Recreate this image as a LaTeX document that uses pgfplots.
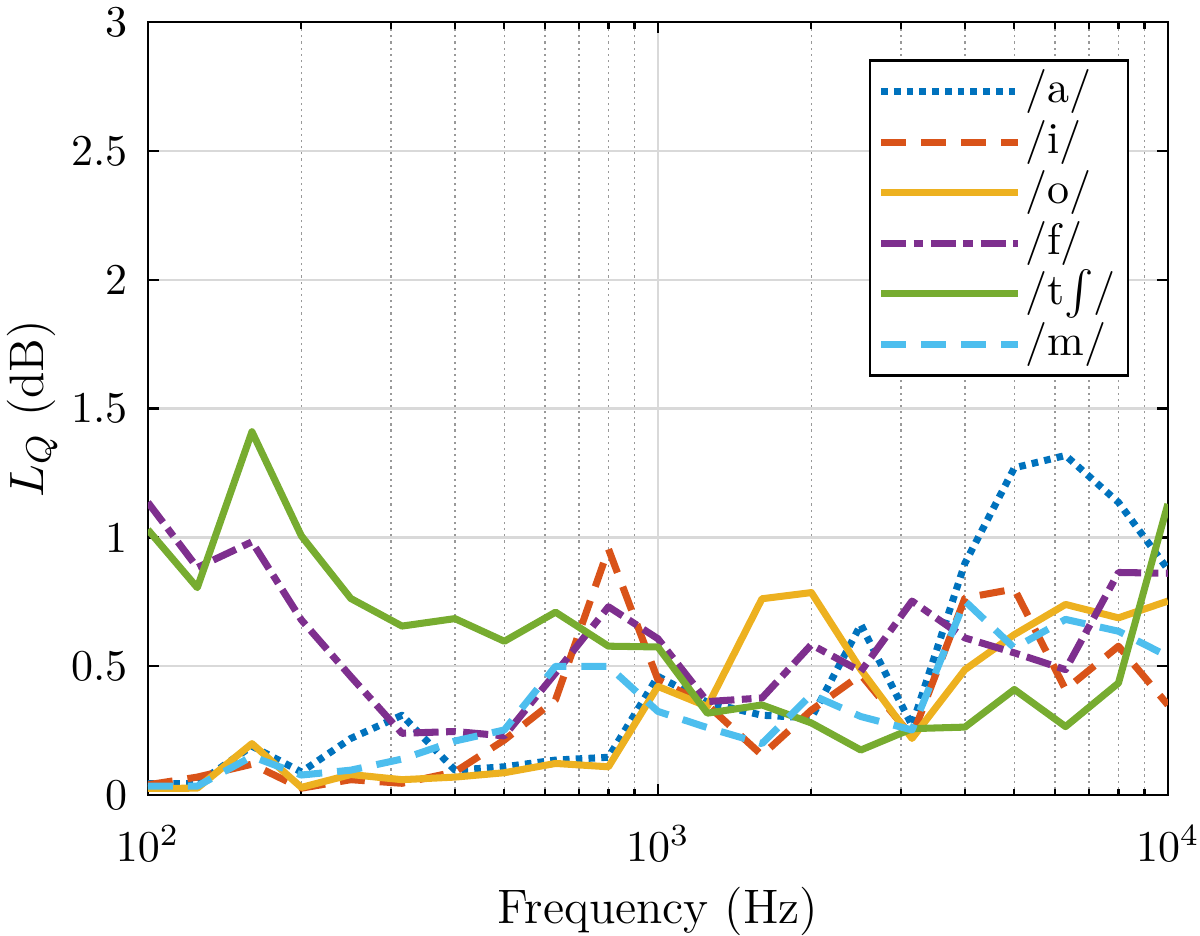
\documentclass[border=0pt]{standalone}
\usepackage{pgfplots}
\usepackage{pgfplotstable}
\pgfplotsset{compat=1.18}
\definecolor{cA}{rgb}{0,0.447,0.741}
\definecolor{cI}{rgb}{0.85,0.325,0.098}
\definecolor{cO}{rgb}{0.929,0.694,0.125}
\definecolor{cF}{rgb}{0.494,0.184,0.556}
\definecolor{cT}{rgb}{0.466,0.674,0.188}
\definecolor{cM}{rgb}{0.301,0.745,0.933}
\pgfplotstableread{
f     a     i     o     ff    t     m
100   0.045 0.040 0.026 1.136 1.030 0.035
125   0.045 0.070 0.027 0.883 0.805 0.035
160   0.190 0.120 0.200 0.983 1.410 0.150
200   0.090 0.027 0.030 0.680 1.006 0.078
250   0.220 0.060 0.080 0.460 0.763 0.097
315   0.310 0.046 0.060 0.240 0.656 0.140
400   0.097 0.090 0.070 0.247 0.685 0.210
500   0.110 0.214 0.087 0.230 0.597 0.253
630   0.136 0.370 0.123 0.474 0.710 0.500
800   0.147 0.955 0.110 0.731 0.578 0.500
1000  0.461 0.448 0.422 0.607 0.575 0.325
1250  0.360 0.350 0.344 0.363 0.318 0.262
1600  0.310 0.155 0.762 0.377 0.350 0.200
2000  0.300 0.330 0.786 0.584 0.280 0.390
2500  0.662 0.467 0.487 0.480 0.175 0.305
3150  0.270 0.227 0.220 0.753 0.258 0.253
4000  0.900 0.765 0.487 0.610 0.264 0.753
5000  1.270 0.800 0.623 0.552 0.410 0.571
6300  1.318 0.410 0.740 0.487 0.266 0.682
8000  1.136 0.578 0.688 0.864 0.435 0.636
10000 0.876 0.350 0.753 0.861 1.130 0.539
}\datatable
\begin{document}
\begin{tikzpicture}
\begin{axis}[
  name=ax,
  xmode=log, log basis x=10,
  scale only axis, width=231.8pt, height=175.7pt,
  xmin=100, xmax=10000, ymin=0, ymax=3,
  xtick={100,1000,10000},
  minor xtick={200,300,400,500,600,700,800,900,2000,3000,4000,5000,6000,7000,8000,9000},
  ytick={0,0.5,1,1.5,2,2.5,3},
  yticklabels={0,0.5,1,1.5,2,2.5,3},
  xmajorgrids, xminorgrids, ymajorgrids,
  major grid style={black!15, line width=0.5pt},
  minor grid style={black!40, line width=0.35pt, dash pattern=on 0.5pt off 0.9pt},
  tick align=inside,
  major tick length=2.5pt, minor tick length=1.5pt,
  axis line style={line width=0.6pt},
  every tick/.style={black, line width=0.5pt},
  tick label style={font=\normalsize},
  xticklabel style={yshift=-3.4pt, inner xsep=0pt},
  yticklabel style={xshift=-1pt, inner ysep=0pt},
  xlabel={Frequency (Hz)}, ylabel={$L_Q$ (dB)},
  label style={font=\fontsize{11}{13}\selectfont, inner sep=0pt},
  xlabel style={at={(axis description cs:0.5,-0.150)}, anchor=center},
  ylabel style={at={(axis description cs:-0.1135,0.5)}, anchor=center},
  legend cell align=left,
  legend image code/.code={\draw[#1] (0pt,0pt) -- (31pt,0pt);},
  legend style={at={(axis description cs:0.962,0.952)}, anchor=north east,
    draw=black, line width=0.6pt, fill=white, font=\normalsize,
    inner xsep=1.7pt, inner ysep=1.3pt, row sep=0pt,
    nodes={inner ysep=0.75pt, inner xsep=1pt, text height=7.5pt, text depth=2.5pt}},
  every axis plot/.append style={line width=1.6pt, line cap=butt, line join=round},
]
\addplot[cA, dash pattern=on 1.5pt off 1.4pt] table[x=f,y=a] {\datatable};
\addlegendentry{/a/}
\addplot[cI, dash pattern=on 5.7pt off 3.4pt] table[x=f,y=i] {\datatable};
\addlegendentry{/i/}
\addplot[cO] table[x=f,y=o] {\datatable};
\addlegendentry{/o/}
\addplot[cF, dash pattern=on 5.7pt off 1.7pt on 2.2pt off 1.7pt] table[x=f,y=ff] {\datatable};
\addlegendentry{/f/}
\addplot[cT] table[x=f,y=t] {\datatable};
\addlegendentry{/t$\int$/}
\addplot[cM, dash pattern=on 5.7pt off 3.4pt] table[x=f,y=m] {\datatable};
\addlegendentry{/m/}
\end{axis}
\path (ax.south west) ++(-33.6pt,-31.1pt) coordinate (bl);
\path (ax.north east) ++(7.3pt,5pt) coordinate (tr);
\path (bl) rectangle (tr);
\end{tikzpicture}
\end{document}
